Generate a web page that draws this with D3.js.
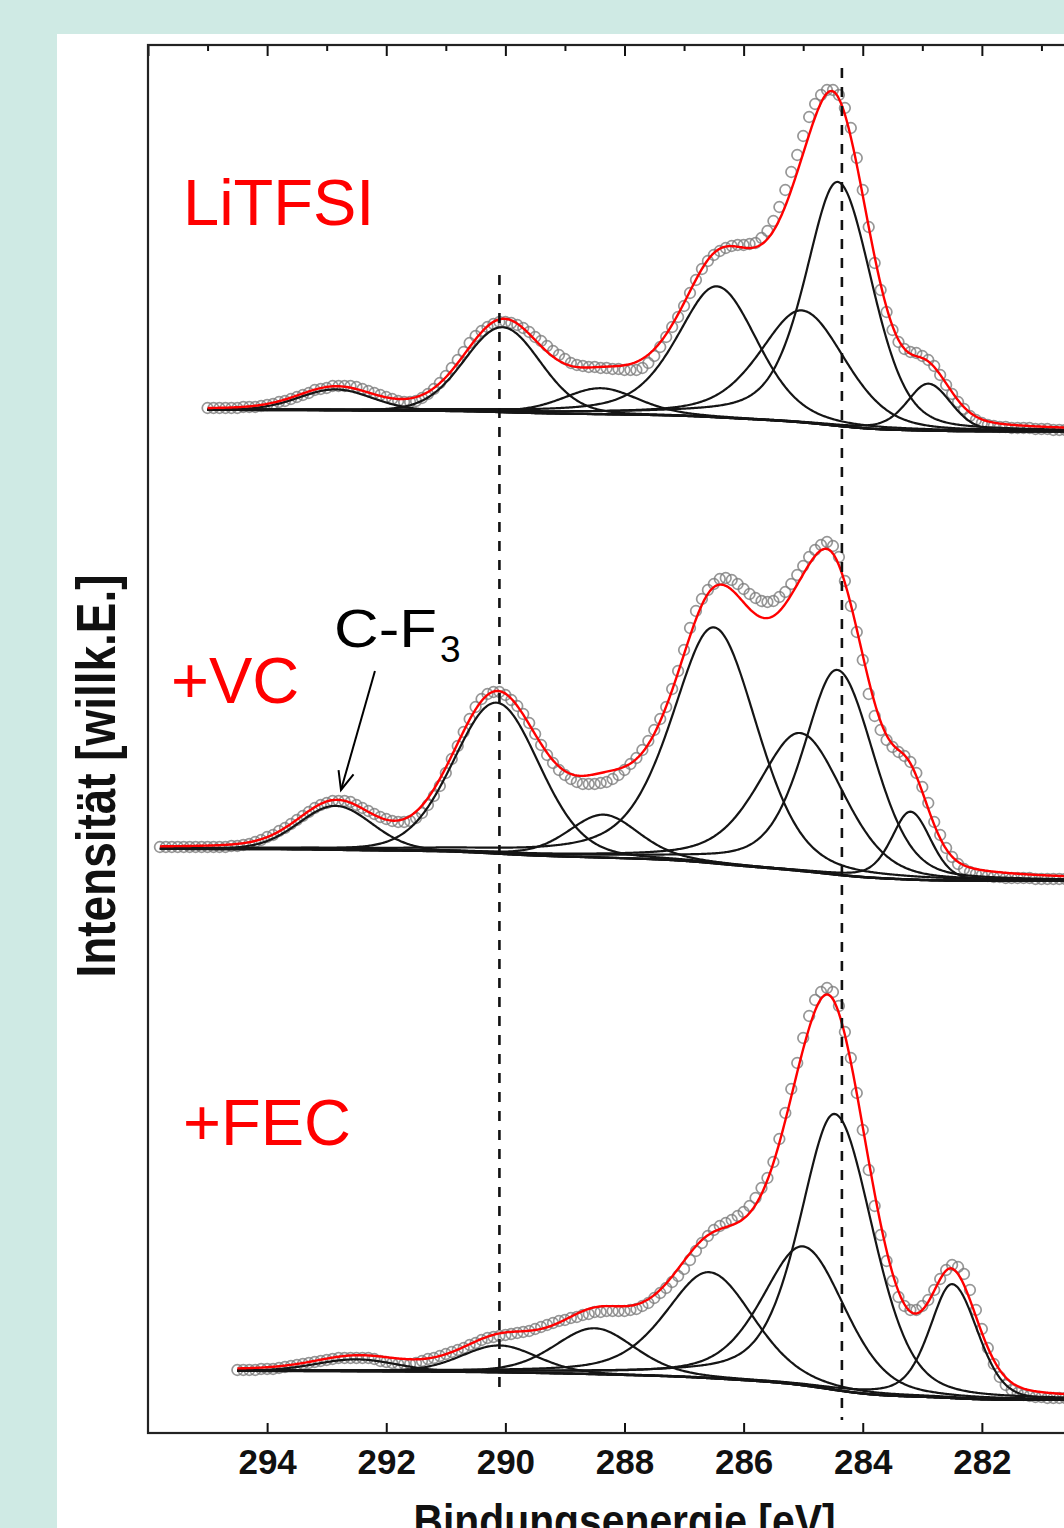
<!DOCTYPE html>
<html>
<head>
<meta charset="utf-8">
<script src="https://cdn.jsdelivr.net/npm/d3@7"></script>
<style>
  body { margin: 0; background: #cfeae4; }
  svg { display: block; }
</style>
</head>
<body>
<div id="chart"></div>
<script>
/*
 * Data: C 1s spectra. Each series starts at *Start (eV) and steps down by 0.1 eV
 */
const eStep = 0.1

const litfsiStart = 295.0
const litfsiCounts = [
  22, 22, 22, 22, 22, 22, 23, 23, 23, 24,
  25, 26, 28, 29, 31, 33, 35, 37, 40, 41,
  42, 44, 44, 44, 44, 43, 41, 39, 37, 35,
  33, 31, 29, 28, 28, 29, 32, 36, 41, 47,
  54, 62, 70, 78, 87, 94, 99, 103, 106, 108,
  108, 107, 105, 102, 98, 93, 89, 84, 79, 75,
  71, 67, 65, 64, 63, 63, 62, 62, 61, 61,
  60, 60, 60, 62, 67, 74, 83, 93, 103, 113,
  124, 137, 150, 161, 169, 175, 179, 182, 184, 185,
  185, 186, 187, 192, 199, 209, 223, 240, 258, 275,
  294, 313, 326, 335, 340, 340, 335, 322, 302, 272,
  240, 203, 167, 140, 118, 100, 88, 81, 78, 77,
  74, 70, 64, 55, 45, 36, 28, 21, 14, 10,
  7, 5, 4, 3, 3, 2, 2, 2, 2, 1,
  1, 1, 0, 0, 0
]

const vcStart = 295.8
const vcCounts = [
  32, 32, 32, 32, 32, 32, 32, 32, 32, 32,
  32, 32, 33, 33, 34, 35, 37, 39, 42, 44,
  48, 51, 55, 59, 63, 67, 71, 74, 76, 78,
  78, 78, 77, 74, 71, 68, 65, 62, 60, 58,
  57, 57, 58, 61, 66, 74, 83, 93, 106, 120,
  133, 147, 160, 172, 180, 185, 187, 187, 184, 179,
  173, 165, 156, 145, 134, 124, 116, 109, 104, 100,
  97, 95, 95, 95, 96, 97, 100, 104, 109, 115,
  121, 129, 138, 149, 160, 172, 190, 208, 229, 251,
  268, 280, 289, 295, 300, 301, 299, 295, 290, 285,
  281, 278, 277, 278, 282, 287, 295, 304, 313, 322,
  329, 334, 337, 333, 322, 298, 273, 247, 219, 185,
  163, 149, 139, 132, 127, 123, 117, 106, 92, 76,
  57, 44, 31, 22, 15, 10, 7, 5, 4, 3,
  2, 2, 1, 1, 1, 1, 1, 0, 0, 0,
  0, 0, 0
]

const fecStart = 294.5
const fecCounts = [
  28, 28, 28, 28, 29, 29, 29, 30, 31, 32,
  33, 34, 35, 36, 37, 38, 39, 40, 40, 40,
  40, 40, 40, 39, 37, 36, 35, 34, 34, 34,
  35, 37, 39, 40, 42, 44, 46, 48, 50, 53,
  55, 58, 60, 61, 62, 63, 64, 65, 66, 67,
  69, 71, 73, 75, 77, 78, 80, 81, 83, 84,
  86, 86, 87, 87, 87, 87, 88, 89, 92, 95,
  100, 105, 110, 116, 122, 129, 138, 147, 155, 162,
  168, 172, 175, 178, 182, 186, 192, 200, 210, 220,
  236, 259, 285, 309, 335, 360, 382, 398, 406, 410,
  406, 392, 366, 340, 305, 268, 228, 192, 163, 137,
  117, 101, 92, 88, 88, 92, 98, 108, 119, 128,
  133, 131, 124, 108, 88, 69, 50, 34, 21, 13,
  8, 5, 3, 2, 1, 1, 0, 0, 0, 0
]

// fitted components:
// [centre eV, height, fwhm high-BE side, fwhm low-BE side, Lorentz share high side, low side]
const litfsiPeaks = [
  [292.85, 21, 1.45, 1.45, 0.1, 0.1],
  [290.05, 85, 1.5, 1.5, 0.1, 0.1],
  [288.4, 26, 1.5, 1.5, 0.3, 0.3],
  [286.45, 131, 1.6, 1.6, 0.5, 0.25],
  [285.02, 112, 1.7, 1.7, 0.5, 0.25],
  [284.42, 244, 1.3, 1.35, 0.5, 0.25],
  [282.9, 47, 0.85, 0.9, 0.4, 0.2]
]
const vcPeaks = [
  [292.85, 44, 1.45, 1.45, 0.1, 0.1],
  [290.15, 151, 1.7, 1.7, 0.15, 0.15],
  [288.35, 43, 1.4, 1.4, 0.3, 0.3],
  [286.5, 236, 1.7, 1.7, 0.5, 0.25],
  [285.05, 138, 1.7, 1.7, 0.5, 0.25],
  [284.43, 205, 1.35, 1.45, 0.5, 0.25],
  [283.2, 68, 0.75, 0.8, 0.4, 0.2]
]
const fecPeaks = [
  [292.5, 12, 1.6, 1.6, 0.1, 0.1],
  [290.1, 27, 1.5, 1.5, 0.2, 0.2],
  [288.5, 46, 1.6, 1.6, 0.3, 0.3],
  [286.58, 106, 1.75, 1.75, 0.5, 0.25],
  [285.0, 139, 1.65, 1.65, 0.5, 0.25],
  [284.47, 276, 1.4, 1.5, 0.5, 0.25],
  [282.5, 114, 0.9, 1.0, 0.45, 0.2]
]

// Shirley background level at the high and the low binding energy end
const litfsiBg = [20, -1.5]
const vcBg = [30, -2]
const fecBg = [27, -2]

// vertical offset of each spectrum in the stack
const offsets = [1003, 554, 35]
const names = ['LiTFSI', '+VC', '+FEC']

const xTicks = [294, 292, 290, 288, 286, 284, 282]
const xMinorTicks = [295, 293, 291, 289, 287, 285, 283, 281]
const refLines = [290.1, 284.35]
const refLineSpan = [[45, 1158], [13, 1365]]


/*
 * Layout
 */
const w = 1064
const h = 1528
const frame = { left: 148, top: 45, bottom: 1433, right: 1101 }

const svg = d3.select('#chart')
  .append('svg')
  .attr('width', w)
  .attr('height', h)

svg.append('rect')
  .attr('width', w)
  .attr('height', h)
  .attr('fill', '#cfeae4')

svg.append('rect')
  .attr('x', 57)
  .attr('y', 34)
  .attr('width', w - 57)
  .attr('height', h - 34)
  .attr('fill', '#fff')

const x = d3.scaleLinear().domain([296, 280]).range([frame.left, frame.right])
const y = d3.scaleLinear().domain([0, 1388]).range([frame.bottom, frame.top])

svg.append('clipPath')
  .attr('id', 'plot-clip')
  .append('rect')
  .attr('x', frame.left)
  .attr('y', frame.top)
  .attr('width', frame.right - frame.left)
  .attr('height', frame.bottom - frame.top)

const plot = svg.append('g').attr('clip-path', 'url(#plot-clip)')


/*
 * Fit model: asymmetric pseudo-Voigt components on a Shirley background
 */
function pv(e, p) {
  const high = e >= p[0]
  const t = (e - p[0]) / (high ? p[2] : p[3])
  const eta = high ? p[4] : p[5]
  const g = Math.exp(-4 * Math.LN2 * t * t)
  const l = 1 / (1 + 4 * t * t)
  return p[1] * ((1 - eta) * g + eta * l)
}

function buildFit(peaks, bg, eHi) {
  const eLo = 280.3
  const n = Math.round((eHi - eLo) / 0.02)
  const grid = d3.range(n + 1).map(i => eLo + i * 0.02)
  const comps = peaks.map(p => grid.map(e => pv(e, p)))
  const sum = grid.map((e, i) => d3.sum(comps, c => c[i]))
  let acc = 0
  const cum = sum.map(s => (acc += s))
  const back = cum.map(c => bg[1] + (bg[0] - bg[1]) * c / acc)
  return {
    background: grid.map((e, i) => [e, back[i]]),
    components: comps.map(c => grid.map((e, i) => [e, back[i] + c[i]])),
    envelope: grid.map((e, i) => [e, back[i] + sum[i]])
  }
}

const spectra = [
  { start: litfsiStart, counts: litfsiCounts, peaks: litfsiPeaks, bg: litfsiBg },
  { start: vcStart, counts: vcCounts, peaks: vcPeaks, bg: vcBg },
  { start: fecStart, counts: fecCounts, peaks: fecPeaks, bg: fecBg }
]

spectra.forEach((s, k) => {
  const off = offsets[k]
  const pts = s.counts.map((c, i) => [s.start - i * eStep, c])
  const fit = buildFit(s.peaks, s.bg, s.start)
  const line = d3.line()
    .x(d => x(d[0]))
    .y(d => y(d[1] + off))

  plot.append('g')
    .selectAll('circle')
    .data(pts)
    .enter()
    .append('circle')
    .attr('cx', d => x(d[0]))
    .attr('cy', d => y(d[1] + off))
    .attr('r', 5.3)
    .attr('fill', 'none')
    .attr('stroke', '#7c7c7c')
    .attr('stroke-opacity', 0.8)
    .attr('stroke-width', 1.7)

  plot.append('g')
    .selectAll('path')
    .data(fit.components.concat([fit.background]))
    .enter()
    .append('path')
    .attr('d', line)
    .attr('fill', 'none')
    .attr('stroke', '#151515')
    .attr('stroke-width', 2.2)

  plot.append('path')
    .attr('d', line(fit.envelope))
    .attr('fill', 'none')
    .attr('stroke', '#ff0000')
    .attr('stroke-width', 2.4)
})

// reference lines
plot.selectAll('.ref')
  .data(refLines)
  .enter()
  .append('line')
  .attr('x1', d => x(d))
  .attr('x2', d => x(d))
  .attr('y1', (d, i) => y(refLineSpan[i][1]))
  .attr('y2', (d, i) => y(refLineSpan[i][0]))
  .attr('stroke', '#111')
  .attr('stroke-width', 2.6)
  .attr('stroke-dasharray', '10,9')


/*
 * Axes and frame
 */
const axisFont = '"Liberation Sans Narrow", "Arial Narrow", "Liberation Sans", Arial, sans-serif'

const bottomAxis = svg.append('g')
  .attr('transform', `translate(0,${frame.bottom})`)
  .call(d3.axisBottom(x).tickValues(xTicks).tickSize(-10).tickSizeOuter(0).tickPadding(16))
bottomAxis.select('.domain').remove()
bottomAxis.selectAll('line').attr('stroke', '#111').attr('stroke-width', 2)
bottomAxis.selectAll('text')
  .attr('fill', '#111')
  .attr('font-family', axisFont)
  .attr('font-weight', 'bold')
  .attr('font-size', 35)

const topAxis = svg.append('g')
  .attr('transform', `translate(0,${frame.top})`)
  .call(d3.axisTop(x).tickValues(xTicks.concat([296, 280])).tickSize(-11).tickFormat(''))
topAxis.select('.domain').remove()
topAxis.selectAll('line').attr('stroke', '#111').attr('stroke-width', 2)

const topMinor = svg.append('g')
  .attr('transform', `translate(0,${frame.top})`)
  .call(d3.axisTop(x).tickValues(xMinorTicks).tickSize(-6).tickFormat(''))
topMinor.select('.domain').remove()
topMinor.selectAll('line').attr('stroke', '#111').attr('stroke-width', 2)

svg.append('rect')
  .attr('x', frame.left)
  .attr('y', frame.top)
  .attr('width', frame.right - frame.left)
  .attr('height', frame.bottom - frame.top)
  .attr('fill', 'none')
  .attr('stroke', '#222')
  .attr('stroke-width', 2.2)

svg.append('text')
  .attr('x', x(288))
  .attr('y', 1537)
  .attr('text-anchor', 'middle')
  .attr('font-family', axisFont)
  .attr('font-weight', 'bold')
  .attr('font-size', 46)
  .attr('textLength', 422)
  .attr('lengthAdjust', 'spacingAndGlyphs')
  .attr('fill', '#111')
  .text('Bindungsenergie [eV]')

svg.append('text')
  .attr('transform', 'translate(115,776) rotate(-90)')
  .attr('text-anchor', 'middle')
  .attr('font-family', axisFont)
  .attr('font-weight', 'bold')
  .attr('font-size', 55)
  .attr('textLength', 403)
  .attr('lengthAdjust', 'spacingAndGlyphs')
  .attr('fill', '#111')
  .text('Intensität [willk.E.]')


/*
 * Labels
 */
const labelPos = [[183, 225], [171, 703], [183, 1145]]

svg.selectAll('.name')
  .data(names)
  .enter()
  .append('text')
  .attr('x', (d, i) => labelPos[i][0])
  .attr('y', (d, i) => labelPos[i][1])
  .attr('font-family', '"Liberation Sans", Arial, sans-serif')
  .attr('font-size', 65)
  .attr('fill', '#ff0000')
  .text(d => d)

svg.append('text')
  .attr('x', 334)
  .attr('y', 647)
  .attr('font-family', '"Liberation Sans", Arial, sans-serif')
  .attr('font-size', 54)
  .attr('textLength', 103)
  .attr('lengthAdjust', 'spacingAndGlyphs')
  .attr('fill', '#000')
  .text('C-F')

svg.append('text')
  .attr('x', 440)
  .attr('y', 662)
  .attr('font-family', '"Liberation Sans", Arial, sans-serif')
  .attr('font-size', 37)
  .attr('fill', '#000')
  .text('3')

// arrow to the C-F3 peak
const arrowFrom = [292.19, 762]
const arrowTo = [292.76, 643]
const ax0 = x(arrowFrom[0]), ay0 = y(arrowFrom[1])
const ax1 = x(arrowTo[0]), ay1 = y(arrowTo[1])
const ang = Math.atan2(ay1 - ay0, ax1 - ax0)
const headLen = 20
const head = [ang + Math.PI - 0.4, ang + Math.PI + 0.4]
  .map(a => [ax1 + headLen * Math.cos(a), ay1 + headLen * Math.sin(a)])

svg.append('line')
  .attr('x1', ax0).attr('y1', ay0)
  .attr('x2', ax1).attr('y2', ay1)
  .attr('stroke', '#000')
  .attr('stroke-width', 2)

svg.append('path')
  .attr('d', `M${head[0][0]},${head[0][1]}L${ax1},${ay1}L${head[1][0]},${head[1][1]}`)
  .attr('fill', 'none')
  .attr('stroke', '#000')
  .attr('stroke-width', 2)
</script>
</body>
</html>
